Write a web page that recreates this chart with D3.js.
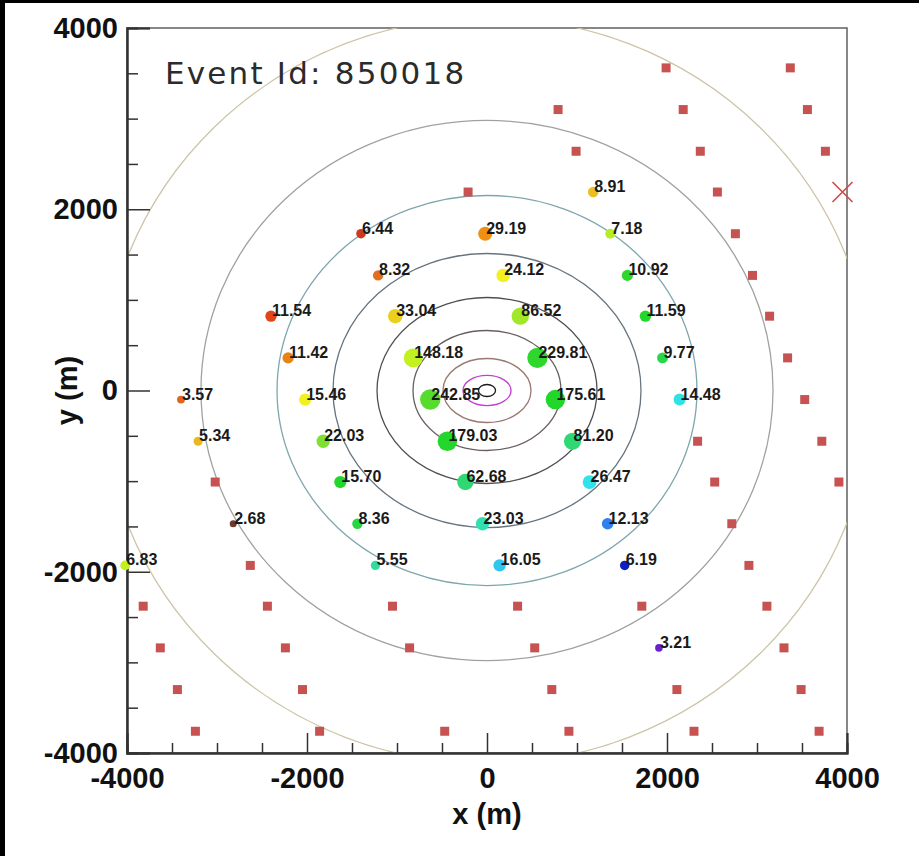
<!DOCTYPE html>
<html lang="en">
<head>
<meta charset="UTF-8">
<title>Event Id: 850018</title>
<style>
  body { margin: 0; background: #fff; overflow: hidden; }
  svg { display: block; }
  .tick text { font-family: "Liberation Sans", Arial, Helvetica, sans-serif; font-weight: bold; font-size: 29px; fill: #111; }
  .tick line { stroke: #333; stroke-width: 1.5px; }
  .title { font-family: "Liberation Sans", Arial, Helvetica, sans-serif; font-weight: bold; font-size: 29px; fill: #111; }
  .hit-label { font-family: "Liberation Sans", Arial, Helvetica, sans-serif; font-weight: bold; font-size: 16px; fill: #1a1a1a; }
  .event-id { font-family: "DejaVu Sans", sans-serif; font-size: 31px; fill: #2b2b2b; letter-spacing: 2.2px; }
</style>
</head>
<body>
<script src="https://d3js.org/d3.v7.min.js"></script>
<script>
  const width = 919;
  const height = 856;

  // surface detectors without signal (metres)
  const stationX = [1990, 3370, 790, 2180, 3560, 990, 2370, 3760, -210, 2560, 2760, 2950, 3140, 3340, 3530,
    2340, 3720, -3020, 2530, 3910, 2720, -2630, 2910, -3820, -2440, -1050, 340, 1720, 3110,
    -3630, -2240, -860, 530, 3300, -3440, -2050, 720, 2110, 3490, -3240, -1860, -470, 910, 2300, 3690];
  const stationY = [3560, 3560, 3100, 3100, 3100, 2640, 2640, 2640, 2190, 2190, 1730, 1270, 820, 360, -100,
    -560, -560, -1010, -1010, -1010, -1470, -1930, -1930, -2380, -2380, -2380, -2380, -2380, -2380,
    -2840, -2840, -2840, -2840, -2840, -3300, -3300, -3300, -3300, -3300, -3760, -3760, -3760, -3760, -3760, -3760];

  // rejected station
  const badX = [3950];
  const badY = [2190];

  // triggered stations: signal, position (m), relative arrival time (0 = latest .. 1 = earliest)
  const signal = [8.91, 6.44, 29.19, 7.18, 8.32, 24.12, 10.92, 11.54, 33.04, 86.52, 11.59, 11.42, 148.18, 229.81,
    9.77, 3.57, 15.46, 242.85, 175.61, 14.48, 5.34, 22.03, 179.03, 81.20, 15.70, 62.68, 26.47, 2.68, 8.36,
    23.03, 12.13, 6.83, 5.55, 16.05, 6.19, 3.21];
  const hitX = [1180, -1400, -20, 1370, -1210, 180, 1560, -2400, -1020, 370, 1760, -2210, -820, 560, 1950,
    -3400, -2020, -630, 760, 2140, -3210, -1820, -440, 950, -1630, -240, 1140, -2820, -1440, -50, 1340,
    -4020, -1240, 140, 1530, 1910];
  const hitY = [2190, 1730, 1730, 1730, 1270, 1270, 1270, 820, 820, 820, 820, 360, 360, 360, 360,
    -100, -100, -100, -100, -100, -560, -560, -560, -560, -1010, -1010, -1010, -1470, -1470, -1470, -1470,
    -1930, -1930, -1930, -1930, -2840];
  const hitTime = [0.79, 0.96, 0.85, 0.67, 0.90, 0.73, 0.56, 0.94, 0.77, 0.65, 0.55, 0.87, 0.68, 0.56, 0.52,
    0.91, 0.73, 0.59, 0.55, 0.36, 0.80, 0.62, 0.55, 0.48, 0.55, 0.48, 0.35, 1.0, 0.53, 0.42, 0.20,
    0.68, 0.44, 0.30, 0.10, 0.0];

  // LDF contour semi-axes (m), innermost first
  const contourRx = [95, 267, 489, 822, 1222, 1711, 2333, 3178, 4278];
  const contourRy = [66, 166, 353, 662, 1026, 1512, 2152, 2980, 4116];
  const contourColors = ["#1a1a1a", "#c040d0", "#9a7a70", "#6a5f5f", "#4d4f55", "#66747f", "#7fa6ae", "#9ea3a0", "#cdc4a6"];

  const majorTicks = [-4000, -2000, 0, 2000, 4000];
  const minorTicks = d3.range(-3500, 4000, 500).filter(v => v % 2000 !== 0);

  const svg = d3.select("body").append("svg")
    .attr("width", width)
    .attr("height", height);

  // black strips of the screenshot edge
  svg.append("rect").attr("x", 0).attr("y", 0).attr("width", 5).attr("height", height).attr("fill", "#000");
  svg.append("rect").attr("x", 0).attr("y", 0).attr("width", width).attr("height", 3).attr("fill", "#000");

  const x = d3.scaleLinear().domain([-4000, 4000]).range([127, 847]);
  const y = d3.scaleLinear().domain([-4000, 4000]).range([753, 28]);

  const timeColor = d3.scaleLinear()
    .domain([0, 0.1, 0.2, 0.3, 0.35, 0.42, 0.48, 0.55, 0.62, 0.68, 0.73, 0.79, 0.85, 0.9, 0.95, 1.0])
    .range(["#6a22d0", "#1020c0", "#2f80f0", "#30c6f0", "#30e2ea", "#30e0b0", "#30d874", "#22d62c",
            "#7ee030", "#c2f020", "#f2f020", "#e8c020", "#f09010", "#e07020", "#e23a18", "#6e3a2c"]);

  const radius = d3.scaleLog().domain([2.68, 242.85]).range([3.5, 10.2]);

  svg.append("defs").append("clipPath").attr("id", "frame-clip")
    .append("rect")
    .attr("x", x(-4000)).attr("y", y(4000))
    .attr("width", x(4000) - x(-4000)).attr("height", y(-4000) - y(4000));

  // frame
  svg.append("rect")
    .attr("x", x(-4000)).attr("y", y(4000))
    .attr("width", x(4000) - x(-4000)).attr("height", y(-4000) - y(4000))
    .attr("fill", "#fff")
    .attr("stroke", "#6a6a6a")
    .attr("stroke-width", 1.6);

  // contours
  svg.append("g").attr("clip-path", "url(#frame-clip)")
    .selectAll("ellipse")
    .data(contourRx)
    .enter()
    .append("ellipse")
    .attr("cx", x(0))
    .attr("cy", y(0))
    .attr("rx", d => x(d) - x(0))
    .attr("ry", (d, i) => y(0) - y(contourRy[i]))
    .attr("fill", "none")
    .attr("stroke", (d, i) => contourColors[i])
    .attr("stroke-width", 1.3);

  // axes
  const label = d => String(d);
  const xMajor = svg.append("g")
    .attr("transform", "translate(0," + y(-4000) + ")")
    .call(d3.axisBottom(x).tickValues(majorTicks).tickSize(-20).tickPadding(14).tickFormat(label));
  svg.append("g")
    .attr("transform", "translate(0," + y(-4000) + ")")
    .call(d3.axisBottom(x).tickValues(minorTicks).tickSize(-10).tickFormat(""));
  svg.append("g")
    .attr("transform", "translate(" + x(-4000) + ",0)")
    .call(d3.axisLeft(y).tickValues(majorTicks).tickSize(-23).tickPadding(9).tickFormat(label));
  svg.append("g")
    .attr("transform", "translate(" + x(-4000) + ",0)")
    .call(d3.axisLeft(y).tickValues(minorTicks).tickSize(-11).tickFormat(""));

  svg.selectAll(".domain").attr("stroke", "#333").attr("stroke-width", 2);
  svg.selectAll(".tick text").attr("fill", "#111");
  xMajor.selectAll(".tick text").attr("dy", "0.71em");

  svg.append("text")
    .attr("class", "title")
    .attr("x", x(0))
    .attr("y", 824)
    .attr("text-anchor", "middle")
    .text("x (m)");

  svg.append("text")
    .attr("class", "title")
    .attr("transform", "translate(77," + y(0) + ") rotate(-90)")
    .attr("text-anchor", "middle")
    .text("y (m)");

  // stations without signal
  svg.append("g")
    .selectAll("path")
    .data(stationX)
    .enter()
    .append("path")
    .attr("d", d3.symbol(d3.symbolSquare).size(81))
    .attr("transform", (d, i) => "translate(" + x(d) + "," + y(stationY[i]) + ")")
    .attr("fill", "#c75252");

  // rejected station marker
  svg.append("g")
    .selectAll("path")
    .data(badX)
    .enter()
    .append("path")
    .attr("d", (d, i) => {
      const cx = x(d), cy = y(badY[i]), s = 10;
      return "M" + (cx - s) + "," + (cy - s) + "L" + (cx + s) + "," + (cy + s) +
             "M" + (cx - s) + "," + (cy + s) + "L" + (cx + s) + "," + (cy - s);
    })
    .attr("stroke", "#d04848")
    .attr("stroke-width", 1.6)
    .attr("fill", "none");

  // triggered stations
  svg.append("g")
    .selectAll("circle")
    .data(signal)
    .enter()
    .append("circle")
    .attr("cx", (d, i) => x(hitX[i]))
    .attr("cy", (d, i) => y(hitY[i]))
    .attr("r", d => radius(d))
    .attr("fill", (d, i) => timeColor(hitTime[i]));

  svg.append("g")
    .selectAll("text")
    .data(signal)
    .enter()
    .append("text")
    .attr("class", "hit-label")
    .attr("x", (d, i) => x(hitX[i]) + 1)
    .attr("y", (d, i) => y(hitY[i]))
    .text(d => d.toFixed(2));

  svg.append("text")
    .attr("class", "event-id")
    .attr("x", 165)
    .attr("y", 84)
    .text("Event Id: 850018");
</script>
</body>
</html>
